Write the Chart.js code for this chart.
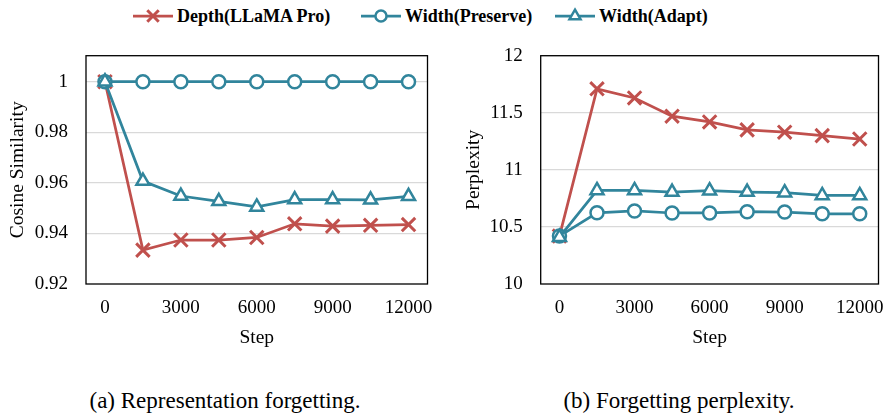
<!DOCTYPE html>
<html lang="en">
<head>
    <meta charset="UTF-8">
    <title>Forgetting: representation and perplexity</title>
    <style>
        body { margin: 0; background: #fff; }
        .page { position: relative; width: 891px; height: 417px; overflow: hidden; font-family: "Liberation Serif", "DejaVu Serif", serif; color: #000; }
        .legend-item { position: absolute; top: 4px; height: 24px; line-height: 24px; font-weight: bold; font-size: 18px; white-space: nowrap; }
        .legend-item canvas { vertical-align: middle; margin-right: 3px; position: relative; top: -2px; }
        .box { position: absolute; top: 40px; height: 310px; }
        .caption { position: absolute; top: 389px; font-size: 23px; line-height: 23px; text-align: center; white-space: nowrap; }
    </style>
</head>
<body>
<div class="page" id="page">
    <div class="box" style="left:0; width:440px;"><canvas id="left"></canvas></div>
    <div class="box" style="left:440px; width:451px;"><canvas id="right"></canvas></div>
    <div class="caption" style="left:0; width:450px;">(a) Representation forgetting.</div>
    <div class="caption" style="left:454px; width:450px;">(b) Forgetting perplexity.</div>
</div>

<script src="https://cdn.jsdelivr.net/npm/chart.js"></script>
<script>
    // data
    const steps = ['0', '1500', '3000', '4500', '6000', '7500', '9000', '10500', '12000'];
    const seriesNames = ['Depth(LLaMA Pro)', 'Width(Preserve)', 'Width(Adapt)'];

    const cosDepth = [1, 0.9334, 0.9374, 0.9374, 0.9384, 0.9438, 0.9429, 0.9432, 0.9435];
    const cosPreserve = [1, 1, 1, 1, 1, 1, 1, 1, 1];
    const cosAdapt = [1, 0.9607, 0.9548, 0.9527, 0.9505, 0.9534, 0.9534, 0.9533, 0.9547];

    const pplDepth = [10.42, 11.71, 11.63, 11.47, 11.42, 11.35, 11.33, 11.30, 11.27];
    const pplPreserve = [10.42, 10.624, 10.64, 10.622, 10.622, 10.633, 10.63, 10.615, 10.615];
    const pplAdapt = [10.41, 10.82, 10.82, 10.805, 10.817, 10.805, 10.80, 10.776, 10.776];

    const cosTicks = [0.92, 0.94, 0.96, 0.98, 1];
    const pplTicks = [10, 10.5, 11, 11.5, 12];

    const RED = '#C0504D';
    const TEAL = '#31859C';
    const FONT = "'Liberation Serif', 'DejaVu Serif', serif";

    const styles = [
        { color: RED, pointStyle: 'crossRot', radius: 9.5, bw: 3 },
        { color: TEAL, pointStyle: 'circle', radius: 6.5, bw: 2.5 },
        { color: TEAL, pointStyle: 'triangle', radius: 7.5, bw: 2.5 }
    ];

    function makeDatasets(values) {
        return values.map((v, i) => ({
            label: seriesNames[i],
            data: v,
            borderColor: styles[i].color,
            backgroundColor: '#fff',
            borderWidth: 2.75,
            pointStyle: styles[i].pointStyle,
            pointRadius: styles[i].radius,
            pointBorderWidth: styles[i].bw,
            pointBorderColor: styles[i].color,
            pointBackgroundColor: '#fff',
            tension: 0,
            order: 3 - i
        }));
    }

    // full black frame around plot area
    const frame = {
        id: 'frame',
        beforeDatasetsDraw(chart) {
            const a = chart.chartArea;
            const c = chart.ctx;
            c.save();
            c.strokeStyle = '#000';
            c.lineWidth = 1.3;
            c.strokeRect(a.left, a.top, a.right - a.left, a.bottom - a.top);
            c.restore();
        }
    };

    function makeChart(id, values, opt) {
        new Chart(document.getElementById(id), {
            type: 'line',
            data: { labels: steps, datasets: makeDatasets(values) },
            options: {
                responsive: true,
                maintainAspectRatio: false,
                animation: false,
                layout: { padding: { top: 15.7, right: opt.padRight, bottom: 0, left: 0 } },
                plugins: { legend: { display: false }, tooltip: { enabled: false } },
                scales: {
                    x: {
                        type: 'category',
                        offset: true,
                        grid: { display: false, drawTicks: false },
                        border: { display: false },
                        ticks: {
                            autoSkip: false, maxRotation: 0, padding: 13,
                            color: '#000', font: { family: FONT, size: 19 },
                            callback: (v, i) => (i % 2 === 0 ? steps[i] : '')
                        },
                        title: {
                            display: true, text: 'Step', color: '#000',
                            font: { family: FONT, size: 19.5 }, padding: { top: 1.6, bottom: 0 }
                        },
                        afterFit: (s) => { s.height = 66; s.paddingLeft = 0; s.paddingRight = 0; }
                    },
                    y: {
                        min: opt.min, max: opt.max,
                        afterBuildTicks: (s) => { s.ticks = opt.ticks.map(v => ({ value: v })); },
                        grid: {
                            drawTicks: false,
                            color: (c) => (c.tick && c.tick.value === opt.min ? 'rgba(0,0,0,0)' : '#d9d9d9'),
                            lineWidth: 1.3
                        },
                        border: { display: false },
                        ticks: {
                            padding: 18, color: '#000', font: { family: FONT, size: 19 },
                            callback: (v) => String(+v.toFixed(2))
                        },
                        title: {
                            display: true, text: opt.title, color: '#000',
                            font: { family: FONT, size: 19.5 }, padding: { top: opt.titlePad, bottom: 0 }
                        },
                        afterFit: (s) => { s.width = opt.yWidth; s.paddingTop = 0; s.paddingBottom = 0; }
                    }
                }
            },
            plugins: [frame]
        });
    }

    makeChart('left', [cosDepth, cosPreserve, cosAdapt],
        { min: 0.92, max: 1.0103, ticks: cosTicks, title: 'Cosine Similarity', yWidth: 86, padRight: 11, titlePad: 6 });
    makeChart('right', [pplDepth, pplPreserve, pplAdapt],
        { min: 10, max: 12, ticks: pplTicks, title: 'Perplexity', yWidth: 100.7, padRight: 6.7, titlePad: 22 });

    // shared legend across both panels
    const page = document.getElementById('page');
    const legendLeft = [132, 360, 554];
    seriesNames.forEach((name, i) => {
        const item = document.createElement('div');
        item.className = 'legend-item';
        item.style.left = legendLeft[i] + 'px';
        const cv = document.createElement('canvas');
        cv.width = 42; cv.height = 22;
        const c = cv.getContext('2d');
        c.strokeStyle = styles[i].color;
        c.lineWidth = 2.75;
        c.beginPath(); c.moveTo(1, 11); c.lineTo(41, 11); c.stroke();
        c.fillStyle = '#fff';
        c.lineWidth = styles[i].bw;
        Chart.helpers.drawPoint(c, { pointStyle: styles[i].pointStyle, radius: styles[i].radius * 0.85, borderWidth: styles[i].bw, rotation: 0 }, 21, 11);
        item.appendChild(cv);
        item.appendChild(document.createTextNode(name));
        page.appendChild(item);
    });
</script>
</body>
</html>
